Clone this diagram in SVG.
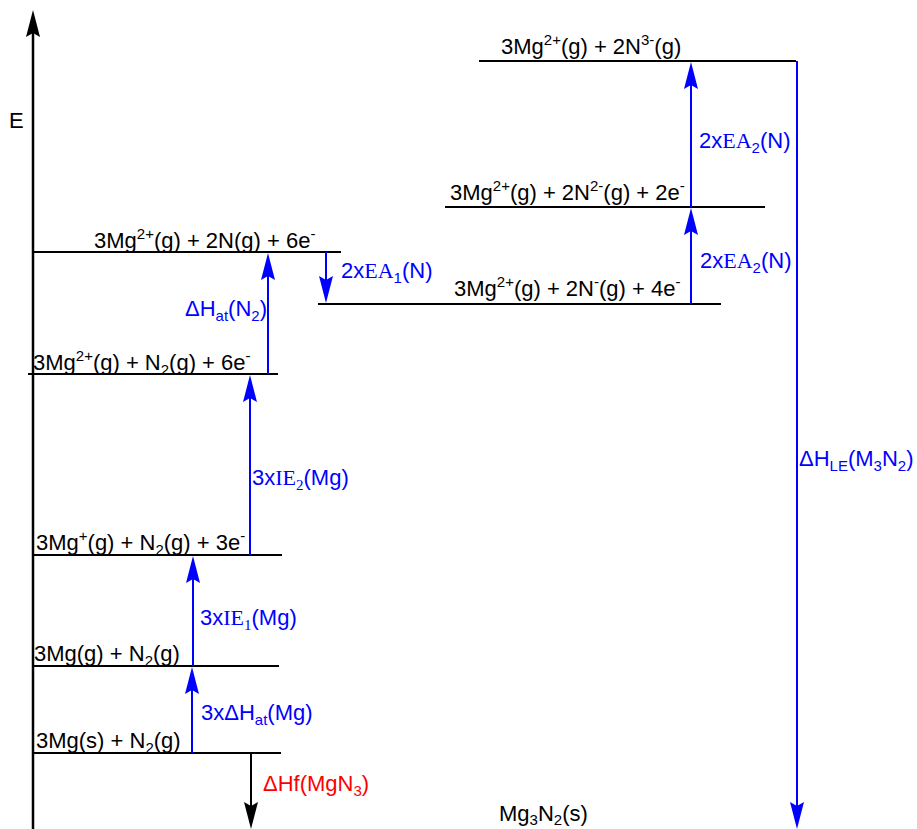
<svg xmlns="http://www.w3.org/2000/svg" width="917" height="829" viewBox="0 0 917 829">
<style>
text{font-family:"Liberation Sans",Arial,Helvetica,sans-serif;font-size:22px;fill:#000}
.b{fill:#0000ff}
.r{fill:#ff0000}
.sm{font-size:15px}
.sf{font-family:"Liberation Serif","Times New Roman",serif}
.lvl{stroke:#000;stroke-width:2;fill:none}
.ab{stroke:#0000ff;stroke-width:2;fill:none}
.ak{stroke:#000;stroke-width:2;fill:none}
</style>
<defs>
<marker id="hb" markerUnits="userSpaceOnUse" markerWidth="30" markerHeight="16" viewBox="0 -8 30 16" refX="7" refY="0" orient="auto">
<path d="M0,-7 L27,0 L0,7 L4,0 Z" fill="#0000ff"/>
</marker>
<marker id="hk" markerUnits="userSpaceOnUse" markerWidth="30" markerHeight="16" viewBox="0 -8 30 16" refX="7" refY="0" orient="auto">
<path d="M0,-7 L27,0 L0,7 L4,0 Z" fill="#000"/>
</marker>
</defs>

<g id="axis">
<line x1="33" y1="829" x2="33" y2="30" stroke="#000" stroke-width="2.5" marker-end="url(#hk)"/>
<text x="9" y="128">E</text>
</g>

<g id="n1">
<line class="lvl" x1="33" y1="252" x2="341" y2="252"/>
<text x="94" y="248">3Mg<tspan class="sm" dy="-9">2+</tspan><tspan dy="9">(g) + 2N(g) + 6e</tspan><tspan class="sm" dy="-9">-</tspan></text>
</g>
<g id="n2">
<line class="lvl" x1="28" y1="374" x2="278" y2="374"/>
<text x="33" y="370">3Mg<tspan class="sm" dy="-9">2+</tspan><tspan dy="9">(g) + N</tspan><tspan class="sm" dy="5">2</tspan><tspan dy="-5">(g) + 6e</tspan><tspan class="sm" dy="-9">-</tspan></text>
</g>
<g id="n3">
<line class="lvl" x1="33" y1="555" x2="282" y2="555"/>
<text x="36" y="550">3Mg<tspan class="sm" dy="-9">+</tspan><tspan dy="9">(g) + N</tspan><tspan class="sm" dy="5">2</tspan><tspan dy="-5">(g) + 3e</tspan><tspan class="sm" dy="-9">-</tspan></text>
</g>
<g id="n4">
<line class="lvl" x1="32" y1="666" x2="279" y2="666"/>
<text x="34" y="661">3Mg(g) + N<tspan class="sm" dy="5">2</tspan><tspan dy="-5">(g)</tspan></text>
</g>
<g id="n5">
<line class="lvl" x1="33" y1="753" x2="281" y2="753"/>
<text x="36" y="748">3Mg(s) + N<tspan class="sm" dy="5">2</tspan><tspan dy="-5">(g)</tspan></text>
</g>
<g id="n6">
<line class="lvl" x1="318" y1="304" x2="721" y2="304"/>
<text x="454" y="296">3Mg<tspan class="sm" dy="-9">2+</tspan><tspan dy="9">(g) + 2N</tspan><tspan class="sm" dy="-9">-</tspan><tspan dy="9">(g) + 4e</tspan><tspan class="sm" dy="-9">-</tspan></text>
</g>
<g id="n7">
<line class="lvl" x1="445" y1="207" x2="765" y2="207"/>
<text x="450" y="200">3Mg<tspan class="sm" dy="-9">2+</tspan><tspan dy="9">(g) + 2N</tspan><tspan class="sm" dy="-9">2-</tspan><tspan dy="9">(g) + 2e</tspan><tspan class="sm" dy="-9">-</tspan></text>
</g>
<g id="n8">
<line class="lvl" x1="479" y1="61" x2="796" y2="61"/>
<text x="501" y="54">3Mg<tspan class="sm" dy="-9">2+</tspan><tspan dy="9">(g) + 2N</tspan><tspan class="sm" dy="-9">3-</tspan><tspan dy="9">(g)</tspan></text>
</g>
<g id="n9">
<text x="499" y="821">Mg<tspan class="sm" dy="4">3</tspan><tspan dy="-4">N</tspan><tspan class="sm" dy="4">2</tspan><tspan dy="-4">(s)</tspan></text>
</g>

<g id="connectors">
<line class="ab" x1="192" y1="753" x2="192" y2="687" marker-end="url(#hb)"/>
<line class="ab" x1="193" y1="666" x2="193" y2="576" marker-end="url(#hb)"/>
<line class="ab" x1="250" y1="555" x2="250" y2="395" marker-end="url(#hb)"/>
<line class="ab" x1="268" y1="374" x2="268" y2="273" marker-end="url(#hb)"/>
<line class="ab" x1="326" y1="252" x2="326" y2="283" marker-end="url(#hb)"/>
<line class="ab" x1="691" y1="304" x2="691" y2="228" marker-end="url(#hb)"/>
<line class="ab" x1="691" y1="207" x2="691" y2="82" marker-end="url(#hb)"/>
<line class="ab" x1="797" y1="61" x2="797" y2="809" marker-end="url(#hb)"/>
<line class="ak" x1="251" y1="753" x2="251" y2="809" marker-end="url(#hk)"/>

<text class="b" x="201" y="720">3xΔH<tspan class="sm" dy="5">at</tspan><tspan dy="-5">(Mg)</tspan></text>
<text class="b" x="200" y="625">3x<tspan class="sf">IE</tspan><tspan class="sm sf" dy="5">1</tspan><tspan dy="-5">(Mg)</tspan></text>
<text class="b" x="252" y="485">3x<tspan class="sf">IE</tspan><tspan class="sm sf" dy="5">2</tspan><tspan dy="-5">(Mg)</tspan></text>
<text class="b" x="185" y="316">ΔH<tspan class="sm" dy="5">at</tspan><tspan dy="-5">(N</tspan><tspan class="sm" dy="5">2</tspan><tspan dy="-5">)</tspan></text>
<text class="b" x="341" y="278">2x<tspan class="sf">EA</tspan><tspan class="sm" dy="5">1</tspan><tspan dy="-5">(N)</tspan></text>
<text class="b" x="700" y="268">2x<tspan class="sf">EA</tspan><tspan class="sm" dy="5">2</tspan><tspan dy="-5">(N)</tspan></text>
<text class="b" x="699" y="148">2x<tspan class="sf">EA</tspan><tspan class="sm" dy="5">2</tspan><tspan dy="-5">(N)</tspan></text>
<text class="b" x="799" y="466">ΔH<tspan class="sm" dy="5">LE</tspan><tspan dy="-5">(M</tspan><tspan class="sm" dy="5">3</tspan><tspan dy="-5">N</tspan><tspan class="sm" dy="5">2</tspan><tspan dy="-5">)</tspan></text>
<text class="r" x="263" y="791">ΔHf(MgN<tspan class="sm" dy="5">3</tspan><tspan dy="-5">)</tspan></text>
</g>
</svg>
